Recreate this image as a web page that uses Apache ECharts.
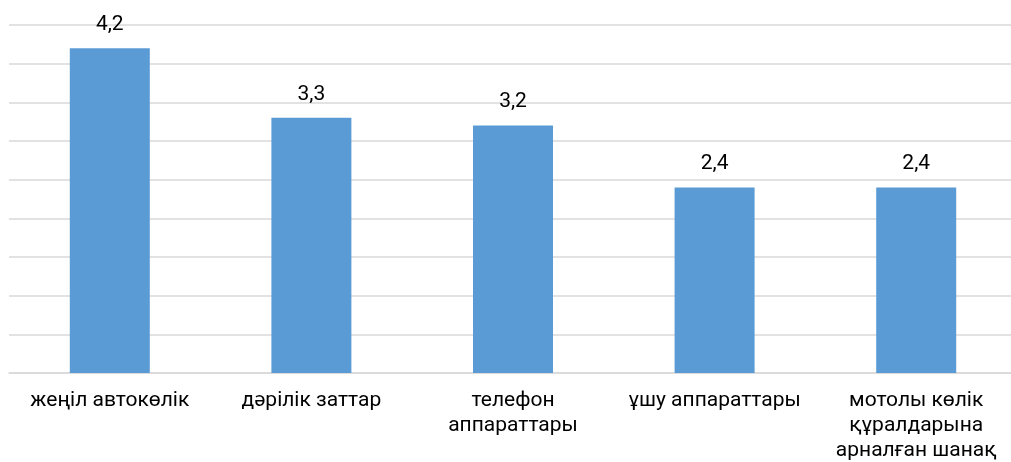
<!DOCTYPE html>
<html>
<head>
<meta charset="utf-8">
<script src="https://cdn.jsdelivr.net/npm/echarts@6/dist/echarts.min.js"></script>
<style>
  html, body { margin: 0; padding: 0; background: #fff; }
  #main { width: 1011px; height: 462px; }
</style>
</head>
<body>
<div id="main"></div>
<script>
// категориялар мен мәндер
var categories = [
  'жеңіл автокөлік',
  'дәрілік заттар',
  'телефон\nаппараттары',
  'ұшу аппараттары',
  'мотолы көлік\nқұралдарына\nарналған шанақ'
];
var values = [4.2, 3.3, 3.2, 2.4, 2.4];

var chart = echarts.init(document.getElementById('main'));
var option = {
  animation: false,
  textStyle: { fontFamily: 'Roboto' },
  grid: { left: 9, top: 25, width: 1008, height: 348, outerBoundsMode: 'none' },
  xAxis: {
    type: 'category',
    data: categories,
    axisLine: { lineStyle: { color: '#d9d9d9', width: 1.5 } },
    axisTick: { show: false },
    axisLabel: {
      interval: 0,
      color: '#000',
      fontSize: 21,
      lineHeight: 25,
      margin: 15
    }
  },
  yAxis: {
    type: 'value',
    min: 0,
    max: 4.5,
    interval: 0.5,
    axisLabel: { show: false },
    axisLine: { show: false },
    axisTick: { show: false },
    splitLine: { lineStyle: { color: '#d9d9d9', width: 1.5 } }
  },
  series: [{
    type: 'bar',
    data: values,
    barWidth: 80,
    itemStyle: { color: '#5b9bd5' },
    label: {
      show: true,
      position: 'top',
      distance: 13,
      color: '#000',
      fontSize: 21,
      formatter: function (p) { return String(p.value).replace('.', ','); }
    }
  }]
};
chart.setOption(option);
</script>
</body>
</html>
